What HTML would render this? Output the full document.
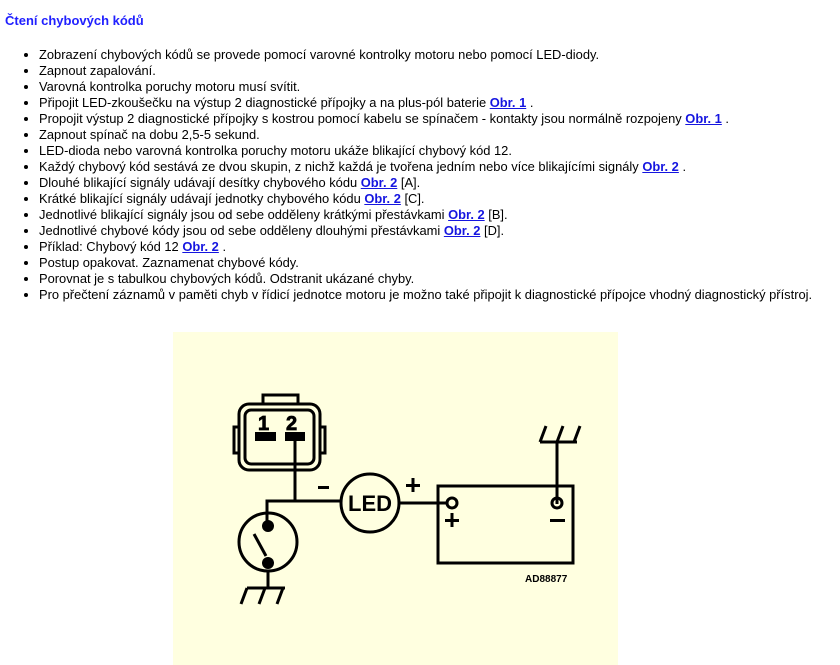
<!DOCTYPE html>
<html><head><meta charset="utf-8">
<style>
html,body{margin:0;padding:0;background:#fff;width:840px;height:665px;overflow:hidden}
body{font-family:"Liberation Sans",Arial,sans-serif;font-size:12.9px;color:#000;position:relative}
h3{position:absolute;left:5px;top:13px;margin:0;font-size:13px;font-weight:bold;color:#2020ff}
ul{position:absolute;left:0;top:47px;margin:0;padding:0 0 0 39px;line-height:16px;list-style:disc}
li{white-space:nowrap}
a{color:#1515e0;font-weight:bold;text-decoration:underline}
svg{position:absolute;left:0;top:0}
</style></head><body>
<h3>Čtení chybových kódů</h3>
<ul>
<li>Zobrazení chybových kódů se provede pomocí varovné kontrolky motoru nebo pomocí LED-diody.</li>
<li>Zapnout zapalování.</li>
<li>Varovná kontrolka poruchy motoru musí svítit.</li>
<li>Připojit LED-zkoušečku na výstup 2 diagnostické přípojky a na plus-pól baterie <a>Obr. 1</a> .</li>
<li>Propojit výstup 2 diagnostické přípojky s kostrou pomocí kabelu se spínačem - kontakty jsou normálně rozpojeny <a>Obr. 1</a> .</li>
<li>Zapnout spínač na dobu 2,5-5 sekund.</li>
<li>LED-dioda nebo varovná kontrolka poruchy motoru ukáže blikající chybový kód 12.</li>
<li>Každý chybový kód sestává ze dvou skupin, z nichž každá je tvořena jedním nebo více blikajícími signály <a>Obr. 2</a> .</li>
<li>Dlouhé blikající signály udávají desítky chybového kódu <a>Obr. 2</a> [A].</li>
<li>Krátké blikající signály udávají jednotky chybového kódu <a>Obr. 2</a> [C].</li>
<li>Jednotlivé blikající signály jsou od sebe odděleny krátkými přestávkami <a>Obr. 2</a> [B].</li>
<li>Jednotlivé chybové kódy jsou od sebe odděleny dlouhými přestávkami <a>Obr. 2</a> [D].</li>
<li>Příklad: Chybový kód 12 <a>Obr. 2</a> .</li>
<li>Postup opakovat. Zaznamenat chybové kódy.</li>
<li>Porovnat je s tabulkou chybových kódů. Odstranit ukázané chyby.</li>
<li>Pro přečtení záznamů v paměti chyb v řídicí jednotce motoru je možno také připojit k diagnostické přípojce vhodný diagnostický přístroj.</li>
</ul>
<svg width="840" height="665" xmlns="http://www.w3.org/2000/svg">
<rect x="173" y="332" width="445" height="333" fill="#ffffe0"/>
<g stroke="#000" stroke-width="3" fill="none">
<rect x="263" y="395" width="35" height="10" fill="#ffffe0"/>
<rect x="234" y="427" width="6" height="26"/>
<rect x="319" y="427" width="6" height="26"/>
<rect x="239" y="404" width="81" height="66" rx="10" fill="#ffffe0"/>
<rect x="245" y="410" width="69" height="54" rx="6"/>
<polyline points="295,440 295,501"/>
<polyline points="267,523 267,501 340,501"/>
<line x1="400" y1="503" x2="446" y2="503"/>
<circle cx="370" cy="503" r="29"/>
<rect x="438" y="486" width="135" height="77"/>
<circle cx="452" cy="503" r="5"/>
<circle cx="557" cy="503" r="5"/>
<line x1="557" y1="497" x2="557" y2="442"/>
<line x1="540" y1="442" x2="577" y2="442"/>
<line x1="540" y1="442" x2="546" y2="426"/>
<line x1="557" y1="442" x2="563" y2="426"/>
<line x1="574" y1="442" x2="580" y2="426"/>
<circle cx="268" cy="542" r="29"/>
<line x1="254" y1="534" x2="266" y2="556"/>
<line x1="268" y1="570" x2="268" y2="588"/>
<line x1="247" y1="588" x2="285" y2="588"/>
<line x1="247" y1="588" x2="241" y2="604"/>
<line x1="265" y1="588" x2="259" y2="604"/>
<line x1="283" y1="588" x2="277" y2="604"/>
</g>
<g fill="#000">
<rect x="255" y="432" width="21" height="9"/>
<rect x="285" y="432" width="20" height="9"/>
<circle cx="268" cy="526" r="6"/>
<circle cx="268" cy="563" r="6"/>
<rect x="318" y="486" width="11" height="3"/>
<rect x="406" y="484" width="14" height="3"/><rect x="411.5" y="478" width="3" height="14"/>
<rect x="445" y="519" width="14" height="3"/><rect x="450.5" y="513" width="3" height="14"/>
<rect x="550" y="519" width="15" height="3"/>
<line x1="557" y1="497" x2="557" y2="504" stroke="#000" stroke-width="3"/>
<text x="258" y="430" font-family="Liberation Sans,Arial,sans-serif" font-weight="bold" font-size="20" stroke="#000" stroke-width="0.8">1</text>
<text x="286" y="430" font-family="Liberation Sans,Arial,sans-serif" font-weight="bold" font-size="20" stroke="#000" stroke-width="0.8">2</text>
<text x="370" y="511" text-anchor="middle" font-family="Liberation Sans,Arial,sans-serif" font-weight="bold" font-size="22">LED</text>
<text x="525" y="582" font-family="Liberation Sans,Arial,sans-serif" font-weight="bold" font-size="10">AD88877</text>
</g>
</svg>
</body></html>
